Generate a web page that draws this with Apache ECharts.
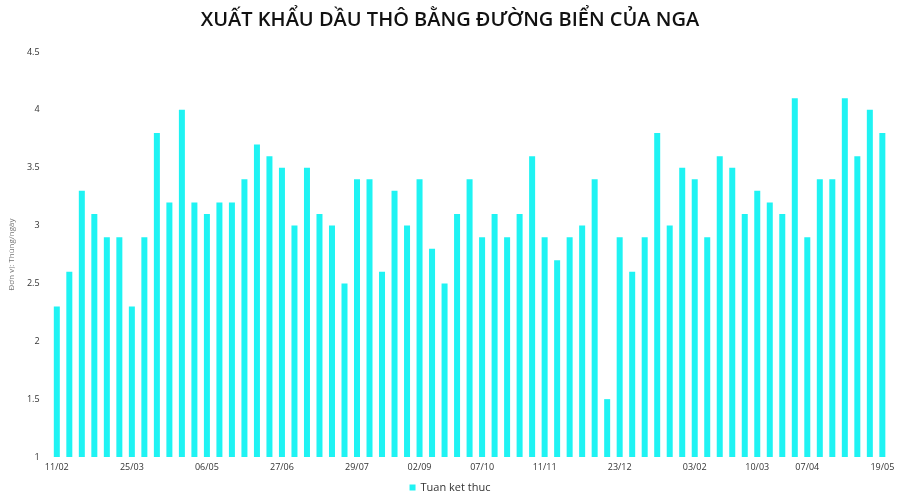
<!DOCTYPE html>
<html>
<head>
<meta charset="utf-8">
<script src="https://cdn.jsdelivr.net/npm/echarts@6/dist/echarts.min.js"></script>
<style>html,body{margin:0;padding:0;background:#fff}#c{width:900px;height:500px}</style>
</head>
<body>
<div id="c"></div>
<script>
var categories = [
  "11/02","18/02","25/02","04/03","11/03","18/03","25/03","01/04","08/04","15/04","22/04","29/04",
  "06/05","13/05","20/05","27/05","03/06","10/06","27/06","24/06","01/07","08/07","15/07","22/07",
  "29/07","05/08","12/08","19/08","26/08","02/09","09/09","16/09","23/09","30/09","07/10","14/10",
  "21/10","28/10","04/11","11/11","18/11","25/11","02/12","09/12","16/12","23/12","30/12","06/01",
  "13/01","20/01","27/01","03/02","10/02","17/02","24/02","03/03","10/03","17/03","24/03","31/03",
  "07/04","14/04","21/04","28/04","05/05","12/05","19/05"
];
var exportsValues = [
  2.3,2.6,3.3,3.1,2.9,2.9,2.3,2.9,3.8,3.2,4.0,3.2,
  3.1,3.2,3.2,3.4,3.7,3.6,3.5,3.0,3.5,3.1,3.0,2.5,
  3.4,3.4,2.6,3.3,3.0,3.4,2.8,2.5,3.1,3.4,2.9,3.1,
  2.9,3.1,3.6,2.9,2.7,2.9,3.0,3.4,1.5,2.9,2.6,2.9,
  3.8,3.0,3.5,3.4,2.9,3.6,3.5,3.1,3.3,3.2,3.1,4.1,
  2.9,3.4,3.4,4.1,3.6,4.0,3.8
];
var shownLabelIndices = [0,6,12,18,24,29,34,39,45,51,56,60,66];
var titleText = "XUẤT KHẨU DẦU THÔ BẰNG ĐƯỜNG BIỂN CỦA NGA";
var seriesName = "Tuan ket thuc";
var yAxisName = "Đơn vị: Thùng/ngày";

var chart = echarts.init(document.getElementById('c'));
chart.setOption({
  animation: false,
  textStyle: { fontFamily: "Open Sans" },
  title: {
    text: titleText, left: 'center', top: 5,
    textStyle: { fontFamily: "Open Sans", fontWeight: 600, fontSize: 20, color: '#111' }
  },
  legend: {
    bottom: 2, left: 'center', icon: 'rect', itemWidth: 6, itemHeight: 6, itemGap: 6,
    textStyle: { fontSize: 11, color: '#333' },
    data: [seriesName]
  },
  grid: { left: 46.7, right: 11.4, top: 52, bottom: 43 },
  xAxis: {
    type: 'category', data: categories,
    axisLine: { show: false }, axisTick: { show: false },
    axisLabel: {
      fontSize: 9, color: '#333', margin: 6,
      interval: function (i) { return shownLabelIndices.indexOf(i) >= 0; }
    }
  },
  yAxis: {
    type: 'value', min: 1, max: 4.5, interval: 0.5,
    name: yAxisName, nameLocation: 'middle', nameGap: 28, nameRotate: 90,
    nameTextStyle: { fontSize: 8, color: '#777' },
    axisLine: { show: false }, axisTick: { show: false }, splitLine: { show: false },
    axisLabel: { fontSize: 9, color: '#333', margin: 11 }
  },
  series: [{
    name: seriesName, type: 'bar', data: exportsValues, barWidth: 6,
    itemStyle: { color: '#1ff3f3' }
  }]
});
</script>
</body>
</html>
